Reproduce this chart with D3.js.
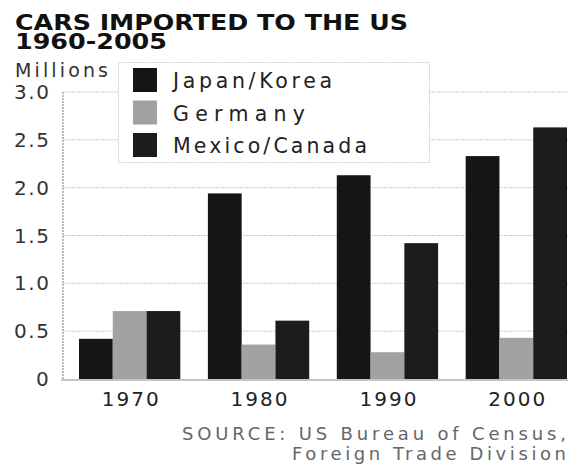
<!DOCTYPE html>
<html>
<head>
<meta charset="utf-8">
<script src="https://cdn.jsdelivr.net/npm/d3@7"></script>
<style>
  html, body { margin: 0; padding: 0; background: #fff; }
  svg { display: block; }
  text { font-family: "DejaVu Sans", Verdana, sans-serif; }
  text.title { font-family: "DejaVu Sans", Verdana, sans-serif; font-weight: bold; }
</style>
</head>
<body>
<svg id="chart" width="568" height="464"></svg>
<script>
// Cars imported to the US, millions
const years = ["1970", "1980", "1990", "2000"];
const seriesNames = ["Japan/Korea", "Germany", "Mexico/Canada"];
const japanKorea   = [0.42, 1.94, 2.13, 2.33];
const germany      = [0.71, 0.36, 0.28, 0.43];
const mexicoCanada = [0.71, 0.61, 1.42, 2.63];
const yTicks = [0, 0.5, 1.0, 1.5, 2.0, 2.5, 3.0];
const yTickLabels = ["0", "0.5", "1.0", "1.5", "2.0", "2.5", "3.0"];

const seriesValues = [japanKorea, germany, mexicoCanada];
const seriesColors = ["#151515", "#a2a2a2", "#1c1c1c"];

const svg = d3.select("#chart");

const plot = { left: 63, right: 568, top: 92, bottom: 379 };

const x = d3.scaleBand().domain(years).range([79, 567]).paddingInner(0.214).paddingOuter(0);
const xs = d3.scaleBand().domain(seriesNames).range([0, x.bandwidth()]).padding(0);
const y = d3.scaleLinear().domain([0, 3]).range([plot.bottom, plot.top]);

// Title, two tight lines
svg.append("text").attr("class", "title").attr("x", 15).attr("y", 30)
  .attr("font-size", 21).attr("fill", "#111")
  .attr("textLength", 393).attr("lengthAdjust", "spacingAndGlyphs")
  .text("CARS IMPORTED TO THE US");
svg.append("text").attr("class", "title").attr("x", 15).attr("y", 49)
  .attr("font-size", 21).attr("fill", "#111")
  .attr("textLength", 152).attr("lengthAdjust", "spacingAndGlyphs")
  .text("1960-2005");

// Unit label
svg.append("text").attr("x", 15).attr("y", 77)
  .attr("font-size", 19).attr("fill", "#333")
  .attr("textLength", 93).attr("lengthAdjust", "spacing")
  .text("Millions");

// Gridlines
svg.append("g").selectAll("line").data(yTicks.filter(d => d > 0)).join("line")
  .attr("x1", plot.left).attr("x2", plot.right)
  .attr("y1", d => y(d)).attr("y2", d => y(d))
  .attr("stroke", "#c8c8c8").attr("stroke-width", 1)
  .attr("stroke-dasharray", "2,1");

// Y axis line
svg.append("line").attr("x1", plot.left).attr("x2", plot.left)
  .attr("y1", plot.top).attr("y2", plot.bottom)
  .attr("stroke", "#bdbdbd").attr("stroke-width", 2).attr("stroke-dasharray", "2,1");

// Y tick labels
svg.append("g").selectAll("text").data(yTicks).join("text")
  .attr("x", (d, i) => yTickLabels[i].length > 1 ? 14 : 36)
  .attr("y", d => y(d) + 7)
  .attr("font-size", 20).attr("fill", "#333")
  .each(function(d, i) {
    const t = d3.select(this).text(yTickLabels[i]);
    if (yTickLabels[i].length > 1) t.attr("textLength", 35).attr("lengthAdjust", "spacing");
  });

// Bars
const groups = svg.append("g").selectAll("g").data(years).join("g")
  .attr("transform", d => `translate(${x(d)},0)`);
groups.selectAll("rect")
  .data((yr, yi) => seriesNames.map((s, si) => ({ s, si, v: seriesValues[si][yi] })))
  .join("rect")
  .attr("x", d => xs(d.s))
  .attr("width", xs.bandwidth())
  .attr("y", d => y(d.v))
  .attr("height", d => y(0) - y(d.v))
  .attr("fill", d => seriesColors[d.si]);

// Baseline
svg.append("line").attr("x1", plot.left - 2).attr("x2", plot.right)
  .attr("y1", plot.bottom + 1).attr("y2", plot.bottom + 1)
  .attr("stroke", "#c4c4c4").attr("stroke-width", 2);

// X labels
svg.append("g").selectAll("text").data(years).join("text")
  .attr("x", d => x(d) + x.bandwidth() / 2 - 28)
  .attr("y", 406)
  .attr("font-size", 20).attr("fill", "#222")
  .attr("textLength", 57).attr("lengthAdjust", "spacing")
  .text(d => d);

// Legend
const legend = svg.append("g");
legend.append("rect").attr("x", 118.5).attr("y", 62.5).attr("width", 311).attr("height", 100)
  .attr("fill", "#fff").attr("stroke", "#d0d0d0").attr("stroke-dasharray", "2,1");
const legendWidths = [159, 132, 194];
const items = legend.selectAll("g.item").data(seriesNames).join("g")
  .attr("class", "item")
  .attr("transform", (d, i) => `translate(133,${80 + i * 32.5})`);
items.append("rect").attr("x", 0).attr("y", -12).attr("width", 24).attr("height", 24)
  .attr("fill", (d, i) => seriesColors[i]);
items.append("text").attr("x", 40).attr("y", 8)
  .attr("font-size", 20.5).attr("fill", "#222")
  .attr("textLength", (d, i) => legendWidths[i]).attr("lengthAdjust", "spacing")
  .text(d => d);

// Source note
const source = [["SOURCE: US Bureau of Census,", 384, 440], ["Foreign Trade Division", 274, 460]];
svg.append("g").selectAll("text").data(source).join("text")
  .attr("x", d => 566 - d[1]).attr("y", d => d[2])
  .attr("font-size", 18).attr("fill", "#666")
  .attr("textLength", d => d[1]).attr("lengthAdjust", "spacing")
  .text(d => d[0]);
</script>
</body>
</html>
